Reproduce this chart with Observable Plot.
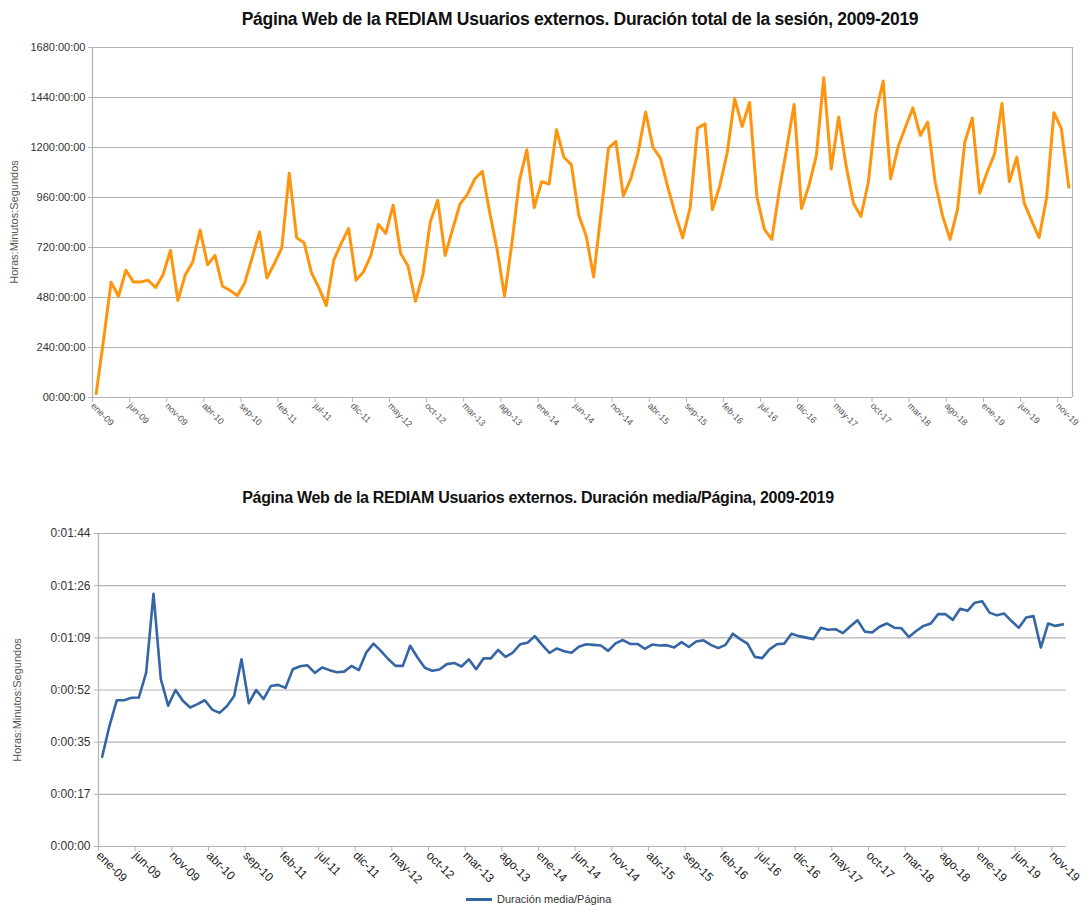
<!DOCTYPE html>
<html><head><meta charset="utf-8">
<script src="https://cdn.jsdelivr.net/npm/d3@7"></script>
<script src="https://cdn.jsdelivr.net/npm/@observablehq/plot@0.6"></script>
<style>
html,body{margin:0;padding:0;background:#fff;width:1087px;height:906px;overflow:hidden;font-family:"Liberation Sans",Arial,sans-serif;}
.title{position:absolute;font-weight:bold;color:#111;white-space:nowrap;letter-spacing:-0.3px;transform:translateX(-50%);}
.ylab{position:absolute;z-index:5;font-size:11px;color:#555;white-space:nowrap;transform:translate(-50%,-50%) rotate(-90deg);}
#c1,#c2{position:absolute;left:0;}
#legend{position:absolute;top:893px;left:466px;font-size:11px;color:#333;display:flex;align-items:center;}
#legend span.sw{display:inline-block;width:26px;height:3px;background:#3465a4;margin-right:5px;}
</style></head>
<body>
<div id="c1" style="top:30px"></div>
<div id="c2" style="top:515px"></div>
<div class="title" style="left:580px;top:9px;font-size:17.5px">Página Web de la REDIAM Usuarios externos. Duración total de la sesión, 2009-2019</div>
<div class="ylab" style="left:14px;top:222px">Horas:Minutos:Segundos</div>
<div class="title" style="left:538px;top:489px;font-size:16px">Página Web de la REDIAM Usuarios externos. Duración media/Página, 2009-2019</div>
<div class="ylab" style="left:17px;top:700px">Horas:Minutos:Segundos</div>
<div id="legend"><span class="sw"></span>Duración media/Página</div>
<script>
// Categories: months ene-09 .. dic-19
const meses = ["ene","feb","mar","abr","may","jun","jul","ago","sep","oct","nov","dic"];
const anios = ["09","10","11","12","13","14","15","16","17","18","19"];
const categorias = anios.flatMap(a => meses.map(m => `${m}-${a}`));

// Top: total session duration (hours)
const duracionTotalHoras = [
  19, 280, 553, 486, 611, 555, 555, 563, 528, 589,
  706, 466, 589, 650, 804, 637, 682, 534, 515, 489,
  550, 671, 795, 574, 643, 719, 1076, 767, 743, 598,
  526, 441, 660, 740, 811, 563, 603, 682, 830, 788,
  923, 692, 631, 462, 590, 843, 947, 682, 807, 928,
  975, 1049, 1086, 888, 711, 486, 743, 1041, 1189, 912,
  1036, 1025, 1285, 1153, 1118, 875, 775, 579, 888, 1197,
  1229, 968, 1049, 1177, 1370, 1200, 1149, 1009, 880, 767,
  912, 1293, 1314, 901, 1017, 1177, 1435, 1301, 1416, 960,
  807, 759, 993, 1194, 1406, 907, 1017, 1161, 1535, 1097,
  1346, 1113, 933, 869, 1033, 1362, 1519, 1049, 1202, 1298,
  1390, 1258, 1322, 1033, 872, 759, 901, 1226, 1342, 981,
  1081, 1169, 1411, 1036, 1153, 933, 848, 767, 956, 1367,
  1290, 1009
];

// Bottom: mean duration per page (seconds)
const duracionMediaSeg = [
  29.8, 40.1, 48.6, 48.6, 49.4, 49.5, 57.8, 84.0, 55.6, 46.8,
  52.0, 48.4, 46.2, 47.3, 48.6, 45.5, 44.4, 46.6, 50.0, 62.2,
  47.6, 52.0, 49.0, 53.3, 53.7, 52.7, 58.9, 59.9, 60.2, 57.7,
  59.5, 58.6, 57.9, 58.1, 60.0, 58.6, 64.4, 67.4, 65.0, 62.3,
  60.0, 60.0, 66.7, 62.8, 59.4, 58.4, 58.8, 60.6, 61.0, 59.8,
  62.2, 58.9, 62.5, 62.5, 65.3, 63.0, 64.4, 67.2, 67.7, 69.9,
  67.0, 64.3, 65.8, 64.9, 64.4, 66.4, 67.2, 67.0, 66.8, 65.0,
  67.5, 68.6, 67.3, 67.3, 65.7, 67.1, 66.8, 66.9, 66.1, 67.9,
  66.3, 68.1, 68.5, 67.0, 65.9, 67.0, 70.7, 68.9, 67.4, 63.0,
  62.6, 65.5, 67.2, 67.4, 70.7, 69.9, 69.4, 68.9, 72.7, 72.0,
  72.2, 70.9, 73.1, 75.2, 71.4, 71.1, 73.0, 74.1, 72.7, 72.5,
  69.6, 71.6, 73.3, 74.1, 77.2, 77.2, 75.3, 79.0, 78.3, 81.0,
  81.5, 77.7, 76.8, 77.4, 74.9, 72.7, 76.1, 76.6, 66.1, 74.1,
  73.3, 73.8
];

// Tick values and labels
const ticksXIdx = d3.range(0, 131, 5);
const ticksYTop = [0, 240, 480, 720, 960, 1200, 1440, 1680];
const labelsYTop = ["00:00:00","240:00:00","480:00:00","720:00:00","960:00:00","1200:00:00","1440:00:00","1680:00:00"];
const ticksYBot = [0, 104/6, 208/6, 52, 416/6, 520/6, 104];
const labelsYBot = ["0:00:00","0:00:17","0:00:35","0:00:52","0:01:09","0:01:26","0:01:44"];

const datosTop = categorias.map((c, i) => ({mes: c, pos: i + 0.5, v: duracionTotalHoras[i]}));
const datosBot = categorias.map((c, i) => ({mes: c, pos: i + 0.5, v: duracionMediaSeg[i]}));
const N = categorias.length;

const grid = "#b3b3b3";
const ff = "Liberation Sans, Arial, sans-serif";

const chartTop = Plot.plot({
  width: 1087, height: 410,
  marginLeft: 92, marginRight: 15, marginTop: 17, marginBottom: 43,
  style: {fontFamily: ff, background: "transparent"},
  x: {domain: [0, N], axis: null},
  y: {domain: [0, 1680], axis: null},
  marks: [
    Plot.ruleY(ticksYTop, {stroke: grid, strokeWidth: 1.2}),
    Plot.ruleX([0, N], {stroke: grid, strokeWidth: 1.2}),
    Plot.axisY(ticksYTop, {label: null, tickSize: 4, tickPadding: 3, stroke: grid, fill: "#333", fontSize: 11,
      tickFormat: (d) => labelsYTop[ticksYTop.indexOf(d)]}),
    Plot.axisX(ticksXIdx, {label: null, tickSize: 5, tickPadding: 2, stroke: grid, fill: "#555", fontSize: 9, tickRotate: 45,
      tickFormat: (d) => categorias[d]}),
    Plot.lineY(datosTop, {x: "pos", y: "v", stroke: "#ff950e", strokeWidth: 3, strokeLinejoin: "round"})
  ]
});
document.getElementById("c1").appendChild(chartTop);

const chartBot = Plot.plot({
  width: 1087, height: 375,
  marginLeft: 98, marginRight: 21, marginTop: 18, marginBottom: 44,
  style: {fontFamily: ff, background: "transparent"},
  x: {domain: [0, N], axis: null},
  y: {domain: [0, 104], axis: null},
  marks: [
    Plot.ruleY(ticksYBot, {stroke: grid, strokeWidth: 1.2}),
    Plot.ruleX([0], {stroke: grid, strokeWidth: 1.2}),
    Plot.axisY(ticksYBot, {label: null, tickSize: 4, tickPadding: 4, stroke: grid, fill: "#333", fontSize: 12,
      tickFormat: (d) => labelsYBot[ticksYBot.indexOf(d)]}),
    Plot.axisX(ticksXIdx, {label: null, tickSize: 5, tickPadding: 2, stroke: grid, fill: "#222", fontSize: 12, tickRotate: 45,
      tickFormat: (d) => categorias[d]}),
    Plot.lineY(datosBot, {x: "pos", y: "v", stroke: "#3465a4", strokeWidth: 2.6, strokeLinejoin: "round"})
  ]
});
document.getElementById("c2").appendChild(chartBot);
</script>
</body></html>
